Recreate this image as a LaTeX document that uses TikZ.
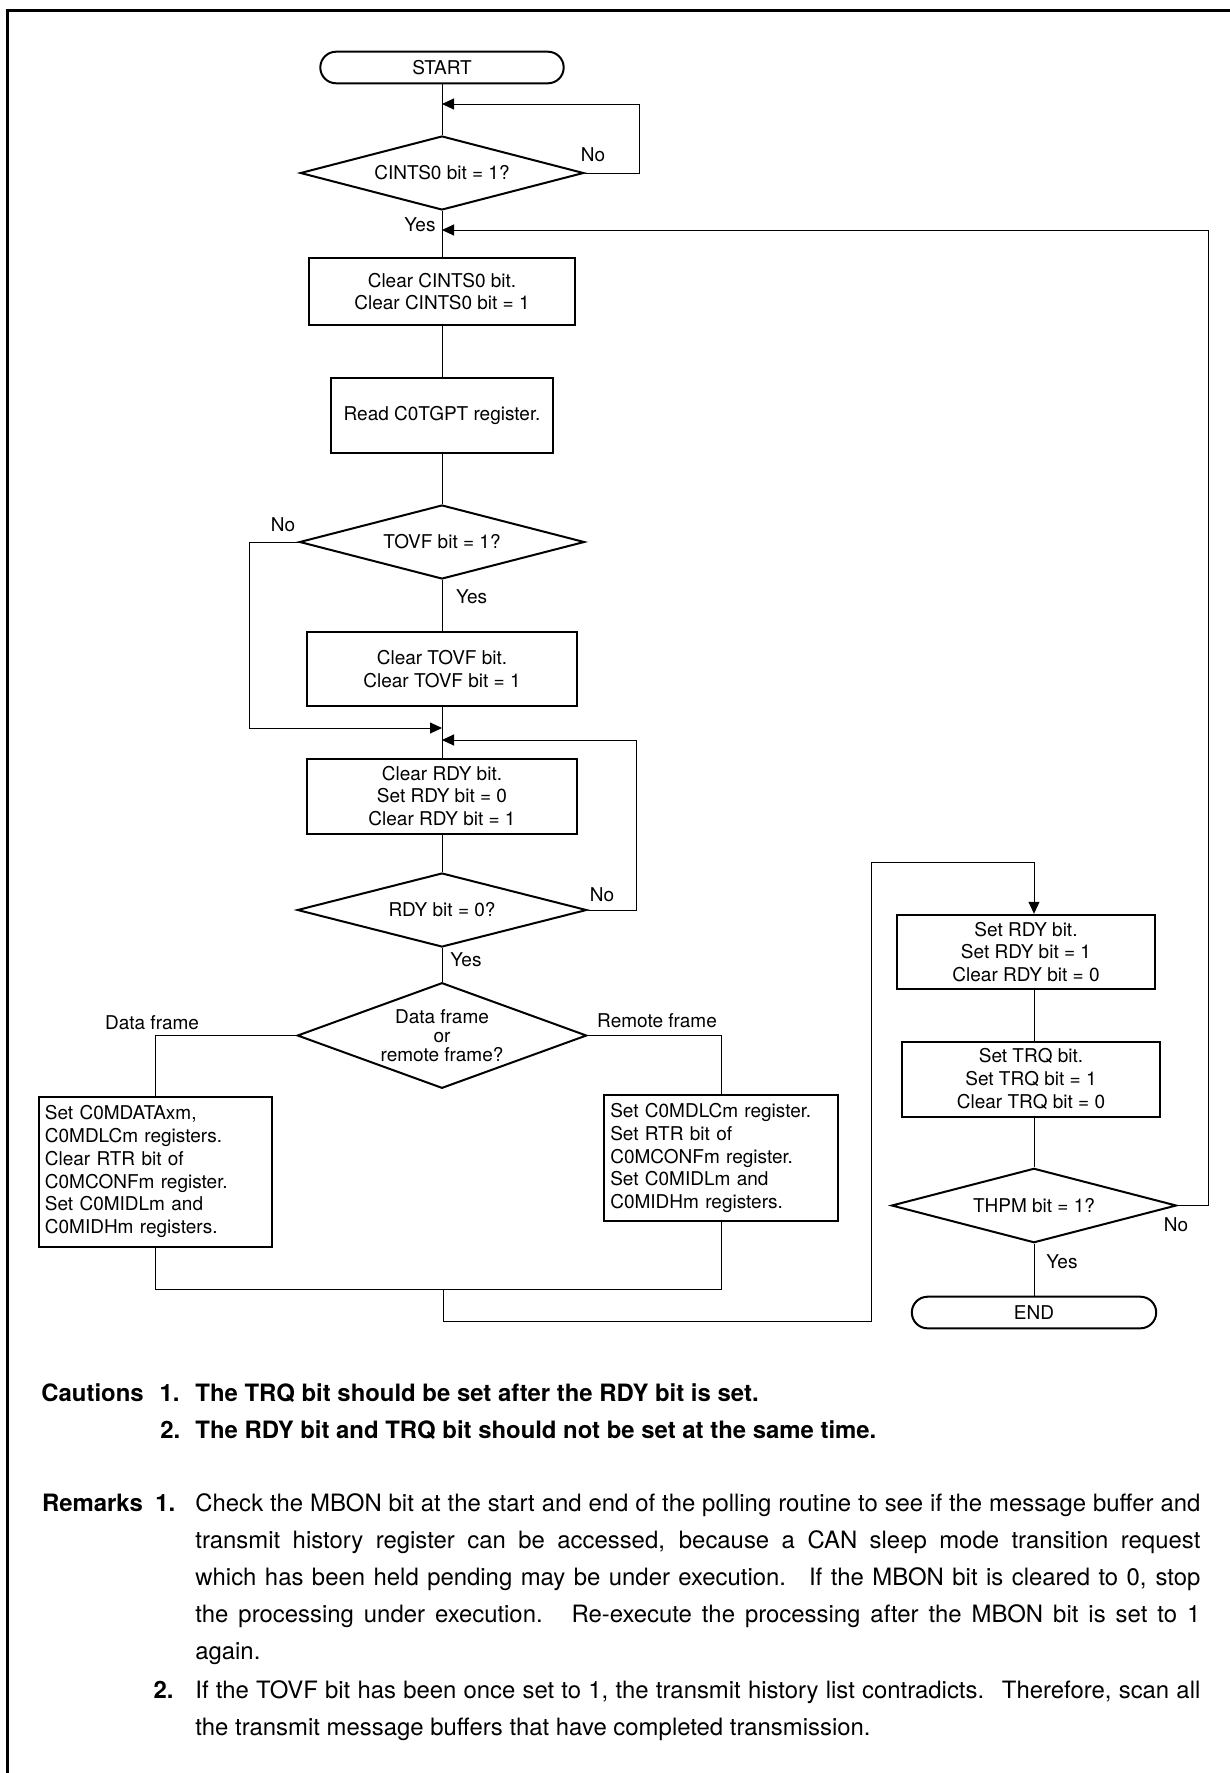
\documentclass[tikz,border=0pt]{standalone}
\usepackage{fontspec}
\setmainfont{TeX Gyre Heros}
\usepackage{tikz}
\usetikzlibrary{positioning, arrows.meta, shapes.geometric, calc}

\begin{document}
\begin{tikzpicture}[
  x=0.5pt, y=-0.5pt,
  every node/.style={font=\fontsize{9.5}{11.35}\selectfont},
  proc/.style={draw, line width=1pt, align=center, inner sep=0pt},
  dec/.style={draw, diamond, line width=1pt, align=center, inner sep=-2pt, shape aspect=3.8},
  term/.style={draw, line width=1pt, rounded corners=7.9pt, minimum height=15.8pt, inner sep=0pt},
  lbl/.style={inner sep=0pt},
  wire/.style={line width=0.5pt},
  arr/.style={-{Triangle[length=6pt,width=5.5pt]}},
  note/.style={font=\fontsize{11.95}{18.5}\selectfont, anchor=base west, inner sep=0pt},
  noteb/.style={note, font=\fontsize{11.95}{18.5}\selectfont\bfseries},
]
  \useasboundingbox (0,0) rectangle (1230,1773);
  \draw[line width=1.5pt] (7.5,1773) -- (7.5,10.8) -- (1230,10.8);

  % main column
  \node[term, minimum width=121.7pt] (start) at (442,67.5) {START};
  \node[dec, minimum width=141.7pt, minimum height=37pt] (dCints) at (442,173) {CINTS0 bit = 1?};
  \node[proc, minimum width=132.7pt, minimum height=33.5pt] (bClrCints) at (442,291.5)
    {Clear CINTS0 bit.\\Clear CINTS0 bit = 1};
  \node[proc, minimum width=111.3pt, minimum height=37.2pt] (bRead) at (442,415.5)
    {Read C0TGPT register.};
  \node[dec, minimum width=142.5pt, minimum height=37pt] (dTovf) at (442,542) {TOVF bit = 1?};
  \node[proc, minimum width=135.3pt, minimum height=37.2pt] (bClrTovf) at (442,669)
    {Clear TOVF bit.\\Clear TOVF bit = 1};
  \node[proc, minimum width=135.2pt, minimum height=37.5pt] (bClrRdy) at (442,796)
    {Clear RDY bit.\\Set RDY bit = 0\\Clear RDY bit = 1};
  \node[dec, minimum width=144.7pt, minimum height=37pt] (dRdy) at (442,910) {RDY bit = 0?};
  \node[dec, minimum width=144.7pt, minimum height=52.8pt, shape aspect=2.74,
        font=\fontsize{9.5}{9.35}\selectfont] (dFrame) at (442,1035.5)
    {Data frame\\or\\remote frame?};

  \node[proc, align=left, text width=110.4pt, inner xsep=3pt, minimum height=75pt] (bData) at (155.3,1171.7)
    {Set C0MDATAxm,\\C0MDLCm registers.\\Clear RTR bit of\\C0MCONFm register.\\Set C0MIDLm and\\C0MIDHm registers.};
  \node[proc, align=left, text width=110.7pt, inner xsep=3pt, minimum height=62.9pt] (bRemote) at (721,1158)
    {Set C0MDLCm register.\\Set RTR bit of\\C0MCONFm register.\\Set C0MIDLm and\\C0MIDHm registers.};

  % right column
  \node[proc, minimum width=128.7pt, minimum height=37.2pt] (bSetRdy) at (1026,952)
    {Set RDY bit.\\Set RDY bit = 1\\Clear RDY bit = 0};
  \node[proc, minimum width=128.9pt, minimum height=37.5pt] (bTrq) at (1031,1079)
    {Set TRQ bit.\\Set TRQ bit = 1\\Clear TRQ bit = 0};
  \node[dec, minimum width=142.5pt, minimum height=37.2pt] (dThpm) at (1034,1205.5) {THPM bit = 1?};
  \node[term, minimum width=122.2pt] (end) at (1034,1312.5) {END};

  % branch labels
  \node[lbl] (nCints) at (593,155) {No};
  \node[lbl] (yCints) at (420,225) {Yes};
  \node[lbl] (nTovf) at (283,525) {No};
  \node[lbl] (yTovf) at (471.7,596.7) {Yes};
  \node[lbl] (nRdy) at (602,895) {No};
  \node[lbl] (yRdy) at (466,960) {Yes};
  \node[lbl] (lData) at (152,1022.7) {Data frame};
  \node[lbl] (lRemote) at (657,1021) {Remote frame};
  \node[lbl] (nThpm) at (1176,1225) {No};
  \node[lbl] (yThpm) at (1062,1261.7) {Yes};

  \coordinate (kA) at (639,104);
  \coordinate (jA) at (442,104);
  \coordinate (kB) at (1208,230);
  \coordinate (jB) at (442,230);
  \coordinate (kC) at (249,728);
  \coordinate (jC) at (442,728);
  \coordinate (kD) at (636,740);
  \coordinate (jD) at (442,740);
  \coordinate (jM) at (443,1289);
  \coordinate (kE) at (443,1321.7);
  \coordinate (kF) at (871,1321.7);
  \coordinate (kG) at (871,862.7);

  \draw[wire] (start) -- (dCints) -- (bClrCints) -- (bRead) -- (dTovf) -- (bClrTovf)
    -- (bClrRdy) -- (dRdy) -- (dFrame);
  \draw[wire, arr] (dCints.east) -| (kA) -- (jA);
  \draw[wire, arr] (dThpm.east) -| (kB) -- (jB);
  \draw[wire, arr] (dTovf.west) -| (kC) -- (jC);
  \draw[wire, arr] (dRdy.east) -| (kD) -- (jD);
  \draw[wire] (dFrame.west) -| (bData.north);
  \draw[wire] (dFrame.east) -| (bRemote.north);
  \draw[wire] (bData.south) |- (jM) -| (bRemote.south);
  \draw[wire, arr] (jM) -- (kE) -- (kF) -- (kG) -| (bSetRdy.north -| dThpm);
  \draw[wire] (bSetRdy.south -| dThpm) -- (bTrq.north -| dThpm);
  \draw[wire] (bTrq.south -| dThpm) -- (dThpm.north);
  \draw[wire] (dThpm) -- (end);

  % notes
  \node[noteb] (cauHead) at (41,1401) {Cautions};
  \node[noteb] (cauOne) at (159.3,1401) {1.};
  \node[noteb] (cauOneTxt) at (195,1401) {The TRQ bit should be set after the RDY bit is set.};
  \node[noteb] (cauTwo) at (160,1438.3) {2.};
  \node[noteb] (cauTwoTxt) at (195,1438.3) {The RDY bit and TRQ bit should not be set at the same time.};
  \node[noteb] (remHead) at (41.7,1511.7) {Remarks};
  \node[noteb] (remOne) at (155,1511.7) {1.};
  \node[note, text width=502.5pt, align=justify] (remOneTxt) at (195,1511.7)
    {Check the MBON bit at the start and end of the polling routine to see if the message buffer and\linebreak
     transmit history register can be accessed, because a CAN sleep mode transition request\linebreak
     which has been held pending may be under execution.~ If the MBON bit is cleared to 0, stop\linebreak
     the processing under execution.~ Re-execute the processing after the MBON bit is set to 1\linebreak
     again.};
  \node[noteb] (remTwo) at (153.3,1698.3) {2.};
  \node[note, text width=502.5pt, align=justify] (remTwoTxt) at (195,1698.3)
    {If the TOVF bit has been once set to 1, the transmit history list contradicts.~ Therefore, scan all\linebreak
     the transmit message buffers that have completed transmission.};
\end{tikzpicture}
\end{document}
